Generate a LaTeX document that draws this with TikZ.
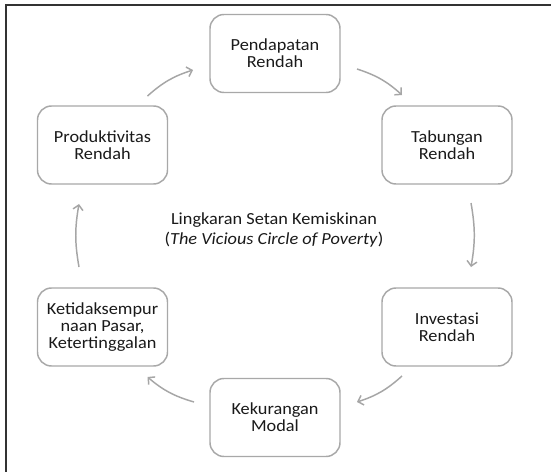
\documentclass[tikz,border=0pt]{standalone}
\usepackage{fontspec}
\setmainfont{Carlito}[FakeStretch=1.08]
\usetikzlibrary{arrows.meta}
\definecolor{boxgray}{HTML}{A8A8A8}
\definecolor{arrgray}{HTML}{A6A6A6}
\definecolor{txtgray}{HTML}{1A1A1A}
\definecolor{framecol}{HTML}{333333}
\tikzset{
  stepbox/.style={draw=boxgray, line width=1.1pt, rounded corners=10.5pt,
    minimum width=97.5pt, minimum height=58.5pt, align=center,
    text=txtgray, font=\fontsize{12.7}{12.75}\selectfont, inner sep=0pt},
  arr/.style={draw=arrgray, line width=1.1pt,
    -{Straight Barb[length=3.6pt,width=7.5pt,line width=1.1pt]}},
  centertext/.style={align=center, text=txtgray,
    font=\fontsize{12.7}{15}\selectfont}
}
\begin{document}
\begin{tikzpicture}[x=0.75pt,y=-0.75pt]
\useasboundingbox (0,0) rectangle (551,472);
\fill[white] (0,0) rectangle (551,472);
\draw[framecol, line width=1.3pt] (6.3,475) -- (6.3,4.7) -- (555,4.7);

\node[stepbox] (pend) at (275,53.5) {Pendapatan\\Rendah};
\node[stepbox] (tab)  at (447,145)  {Tabungan\\Rendah};
\node[stepbox] (inv)  at (447,327)  {Investasi\\Rendah};
\node[stepbox] (kek)  at (275,417.5){Kekurangan\\Modal};
\node[stepbox] (ket)  at (102.5,327){Ketidaksempur\\naan Pasar,\\Ketertinggalan};
\node[stepbox] (prod) at (102.5,145){Produktivitas\\Rendah};

\node[centertext] (title) at (274,230) {Lingkaran Setan Kemiskinan\\(\textit{The Vicious Circle of Poverty})};

\draw[arr] ([shift={(45,-49)}]prod.center) to[bend left=12] ([shift={(-82,16.5)}]pend.center);
\draw[arr] ([shift={(82,15.5)}]pend.center) to[bend left=12] ([shift={(-45,-50)}]tab.center);
\draw[arr] ([shift={(24,58)}]tab.center) to[bend left=10] ([shift={(24,-60)}]inv.center);
\draw[arr] ([shift={(-45,49)}]inv.center) to[bend left=12] ([shift={(82,-15.5)}]kek.center);
\draw[arr] ([shift={(-81,-15.5)}]kek.center) to[bend left=12] ([shift={(45,50)}]ket.center);
\draw[arr] ([shift={(-23.5,-60)}]ket.center) to[bend left=10] ([shift={(-23.5,59)}]prod.center);
\end{tikzpicture}
\end{document}
